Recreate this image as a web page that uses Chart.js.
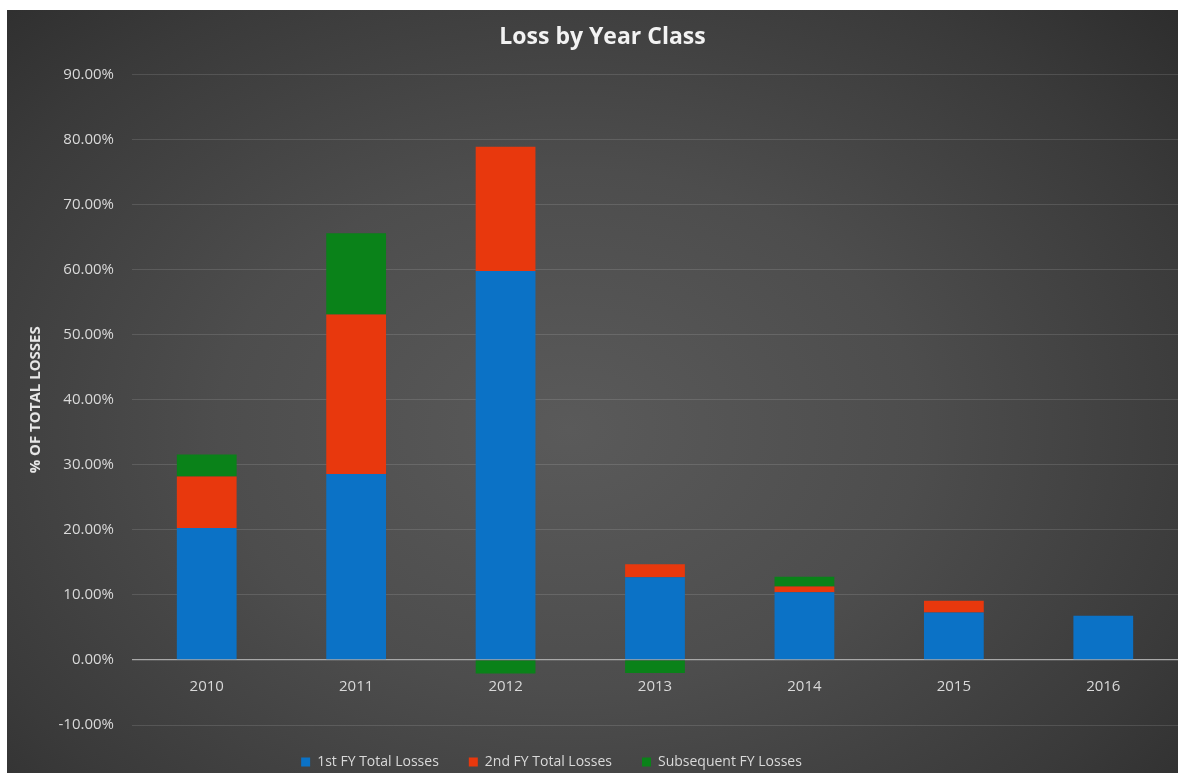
<!DOCTYPE html>
<html>
<head>
<meta charset="utf-8">
<script src="https://cdn.jsdelivr.net/npm/chart.js@4.4.0/dist/chart.umd.min.js"></script>
<style>
  html, body { margin: 0; padding: 0; background: #ffffff; }
  #wrap {
    position: absolute; left: 7px; top: 10px; width: 1171px; height: 763px;
    background: radial-gradient(ellipse 75% 85% at 48% 55%, #5a5a5a 0%, #4d4d4d 40%, #3a3a3a 75%, #2a2a2a 100%);
  }
</style>
</head>
<body>
<div id="wrap"><canvas id="c"></canvas></div>
<script>
const categories = ['2010', '2011', '2012', '2013', '2014', '2015', '2016'];
const firstFY = [20.3, 28.6, 59.8, 12.7, 10.4, 7.3, 6.8];
const secondFY = [7.9, 24.5, 19.1, 2.0, 0.9, 1.8, 0];
const subsequentFY = [3.4, 12.5, -2.1, -2.0, 1.5, 0, 0];
const seriesNames = ['1st FY Total Losses', '2nd FY Total Losses', 'Subsequent FY Losses'];
const yTicks = [-10, 0, 10, 20, 30, 40, 50, 60, 70, 80, 90];

const FONT = "'Open Sans', sans-serif";
const TXT = '#d9d9d9';

const legendShift = {
  id: 'legendShift',
  afterLayout(chart) {
    if (chart.legend) { chart.legend.left -= 51; chart.legend.right -= 51; }
  }
};

new Chart(document.getElementById('c'), {
  type: 'bar',
  plugins: [legendShift],
  data: {
    labels: categories,
    datasets: [
      { label: seriesNames[0], data: firstFY, backgroundColor: '#0B72C6' },
      { label: seriesNames[1], data: secondFY, backgroundColor: '#E8380D' },
      { label: seriesNames[2], data: subsequentFY, backgroundColor: '#0A8219' }
    ]
  },
  options: {
    responsive: true,
    maintainAspectRatio: false,
    animation: false,
    categoryPercentage: 0.8,
    barPercentage: 0.5,
    layout: { padding: { left: 20, right: 0, top: 0, bottom: -6 } },
    plugins: {
      title: {
        display: true,
        text: 'Loss by Year Class',
        color: '#f2f2f2',
        font: { family: FONT, size: 23, weight: 'bold' },
        padding: { top: 14, bottom: 23 }
      },
      legend: {
        position: 'bottom',
        labels: {
          color: TXT,
          font: { family: FONT, size: 14 },
          boxWidth: 9, boxHeight: 9,
          padding: 30
        }
      },
      tooltip: { enabled: false }
    },
    scales: {
      x: {
        stacked: true,
        position: { y: 0 },
        grid: { display: false, drawTicks: false },
        border: { display: false },
        ticks: { color: TXT, font: { family: FONT, size: 15 }, padding: 18 }
      },
      y: {
        stacked: true,
        min: -10,
        max: 90,
        afterBuildTicks(s) { s.ticks = yTicks.map(v => ({ value: v })); },
        afterFit(s) { s.width = 105; },
        grid: {
          drawTicks: false,
          color: (ctx) => (ctx.tick && ctx.tick.value === 0) ? '#a8a8a8' : 'rgba(255,255,255,0.12)',
          lineWidth: (ctx) => (ctx.tick && ctx.tick.value === 0) ? 1.2 : 1
        },
        border: { display: false },
        ticks: {
          color: TXT,
          font: { family: FONT, size: 15 },
          padding: 18,
          callback: (v) => Number(v).toFixed(2) + '%'
        },
        title: {
          display: true,
          text: '% OF TOTAL LOSSES',
          color: '#e6e6e6',
          font: { family: FONT, size: 15, weight: 'bold' },
          padding: { top: 0, bottom: 0 }
        }
      }
    }
  }
});
</script>
</body>
</html>
